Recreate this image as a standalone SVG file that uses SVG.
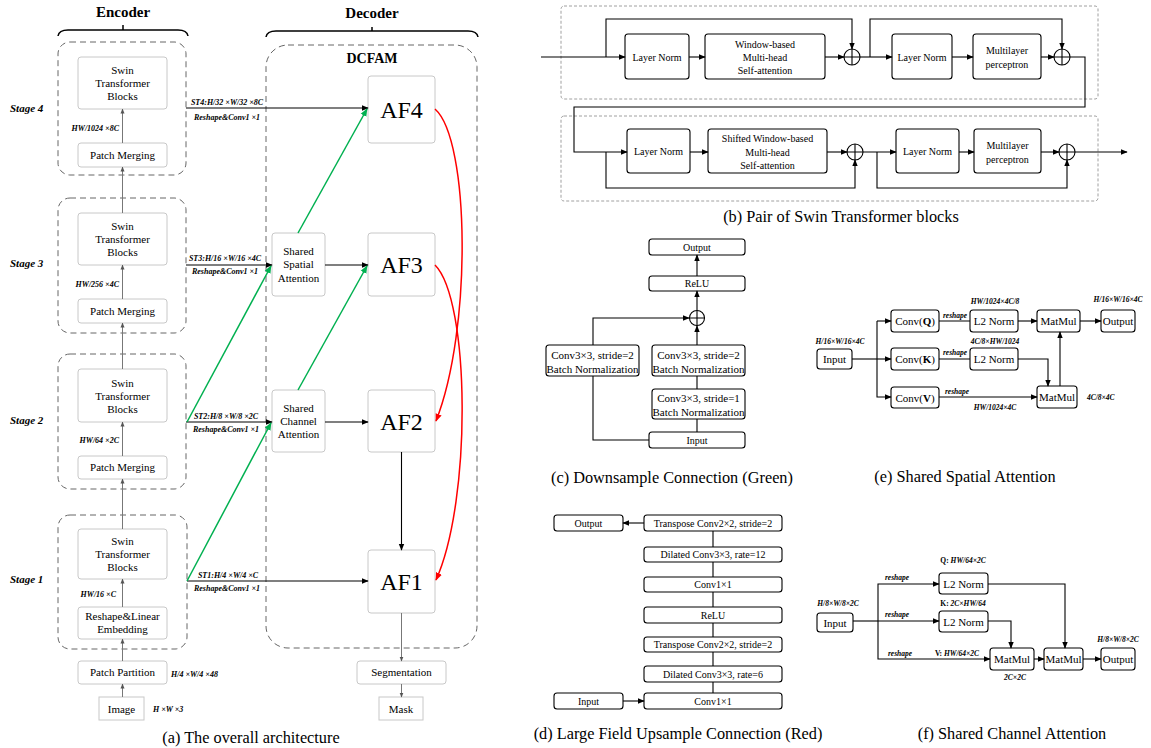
<svg xmlns="http://www.w3.org/2000/svg" width="1151" height="748" viewBox="0 0 1151 748">
<defs>
<marker id="ak" viewBox="0 0 10 10" refX="9" refY="5" markerWidth="7" markerHeight="7" markerUnits="userSpaceOnUse" orient="auto"><path d="M0,1 L10,5 L0,9 z" fill="#000"/></marker>
<marker id="ag" viewBox="0 0 10 10" refX="9" refY="5" markerWidth="5" markerHeight="5" markerUnits="userSpaceOnUse" orient="auto"><path d="M0,1 L10,5 L0,9 z" fill="#555"/></marker>
<marker id="agr" viewBox="0 0 10 10" refX="9" refY="5" markerWidth="8" markerHeight="8" markerUnits="userSpaceOnUse" orient="auto"><path d="M0,1 L10,5 L0,9 z" fill="#00b050"/></marker>
<marker id="ar" viewBox="0 0 10 10" refX="9" refY="5" markerWidth="8" markerHeight="8" markerUnits="userSpaceOnUse" orient="auto"><path d="M0,1 L10,5 L0,9 z" fill="#ff0000"/></marker>
</defs>
<style>
text{font-family:"Liberation Serif","Times New Roman",serif;fill:#000;}
.t{font-size:11px;text-anchor:middle;dominant-baseline:central;}
.tb{font-size:10px;text-anchor:middle;dominant-baseline:central;}
.lab{font-size:8px;font-style:italic;font-weight:bold;dominant-baseline:central;}
.mid{text-anchor:middle;}
.stage{font-size:11px;font-style:italic;font-weight:bold;dominant-baseline:central;}
.title{font-size:15px;font-weight:bold;text-anchor:middle;dominant-baseline:central;}
.cap{font-size:16.3px;text-anchor:middle;dominant-baseline:central;}
.af{font-size:24px;text-anchor:middle;dominant-baseline:central;}
.gbox{fill:#fff;stroke:#c8c8c8;stroke-width:1;}
.dash{fill:none;stroke:#666;stroke-width:1;stroke-dasharray:6,4;}
.sdash{fill:none;stroke:#888;stroke-width:0.8;stroke-dasharray:3,2;}
.bbox{fill:#fff;stroke:#000;stroke-width:1.1;}
.ln{fill:none;stroke:#000;stroke-width:1.1;}
.gl{fill:none;stroke:#777;stroke-width:1;}
.green{fill:none;stroke:#00b050;stroke-width:1.5;}
.red{fill:none;stroke:#ff0000;stroke-width:1.5;}
.brace{fill:none;stroke:#000;stroke-width:1.5;}
</style>

<!-- ===== (a) overall architecture ===== -->
<g id="encoder-title">
<text class="title" x="123" y="12">Encoder</text>
<path class="brace" d="M58,36 Q59,30 68,30 L178,30 Q187,30 188,36 M123,30 L123,25"/>
</g>
<g id="decoder-title">
<text class="title" x="372" y="13">Decoder</text>
<path class="brace" d="M266,37 Q267,31 276,31 L468,31 Q477,31 478,37 M372,31 L372,27"/>
</g>

<g id="stage4">
<rect class="dash" x="58" y="42" width="128" height="133" rx="12"/>
<text class="stage" x="10" y="108">Stage 4</text>
</g>
<g id="stage3">
<rect class="dash" x="58" y="198" width="128" height="135" rx="12"/>
<text class="stage" x="10" y="263">Stage 3</text>
</g>
<g id="stage2">
<rect class="dash" x="58" y="354" width="128" height="135" rx="12"/>
<text class="stage" x="10" y="420">Stage 2</text>
</g>
<g id="stage1">
<rect class="dash" x="58" y="515" width="129" height="134" rx="12"/>
<text class="stage" x="10" y="579">Stage 1</text>
</g>

<g id="swin4"><rect class="gbox" x="78" y="57" width="89" height="52" rx="3"/>
<text class="t" x="122.5" y="70">Swin</text><text class="t" x="122.5" y="83">Transformer</text><text class="t" x="122.5" y="96">Blocks</text></g>
<g id="pm4"><rect class="gbox" x="78" y="143" width="89" height="24" rx="3"/><text class="t" x="122.5" y="155">Patch Merging</text></g>
<g id="swin3"><rect class="gbox" x="78" y="213" width="89" height="52" rx="3"/>
<text class="t" x="122.5" y="226">Swin</text><text class="t" x="122.5" y="239">Transformer</text><text class="t" x="122.5" y="252">Blocks</text></g>
<g id="pm3"><rect class="gbox" x="78" y="299" width="89" height="24" rx="3"/><text class="t" x="122.5" y="311">Patch Merging</text></g>
<g id="swin2"><rect class="gbox" x="78" y="369" width="89" height="53" rx="3"/>
<text class="t" x="122.5" y="383">Swin</text><text class="t" x="122.5" y="396">Transformer</text><text class="t" x="122.5" y="409">Blocks</text></g>
<g id="pm2"><rect class="gbox" x="78" y="456" width="89" height="23" rx="3"/><text class="t" x="122.5" y="467">Patch Merging</text></g>
<g id="swin1"><rect class="gbox" x="78" y="529" width="89" height="50" rx="3"/>
<text class="t" x="122.5" y="541">Swin</text><text class="t" x="122.5" y="554">Transformer</text><text class="t" x="122.5" y="567">Blocks</text></g>
<g id="embed"><rect class="gbox" x="78" y="607" width="89" height="32" rx="3"/>
<text class="t" x="122.5" y="616">Reshape&amp;Linear</text><text class="t" x="122.5" y="629">Embedding</text></g>
<g id="partition"><rect class="gbox" x="78" y="661" width="89" height="23" rx="3"/><text class="t" x="122.5" y="672">Patch Partition</text>
<text class="lab" x="171" y="674">H/4 ×W/4 ×48</text></g>
<g id="image"><rect class="gbox" x="99" y="697" width="45" height="23"/><text class="t" x="121.5" y="709">Image</text>
<text class="lab" x="153" y="709">H ×W ×3</text></g>

<g id="dcfam">
<rect class="dash" x="266" y="45" width="211" height="603" rx="22"/>
<text class="title" x="372" y="58" style="font-size:14px">DCFAM</text>
</g>
<g id="af4"><rect class="gbox" x="368" y="76" width="67" height="67" rx="3"/><text class="af" x="401.5" y="110">AF4</text></g>
<g id="af3"><rect class="gbox" x="368" y="233" width="67" height="63" rx="3"/><text class="af" x="401.5" y="265">AF3</text></g>
<g id="af2"><rect class="gbox" x="368" y="390" width="67" height="62" rx="3"/><text class="af" x="401.5" y="422">AF2</text></g>
<g id="af1"><rect class="gbox" x="368" y="550" width="67" height="63" rx="3"/><text class="af" x="401.5" y="582">AF1</text></g>
<g id="ssa"><rect class="gbox" x="272" y="233" width="53" height="63" rx="3"/>
<text class="t" x="298.5" y="251">Shared</text><text class="t" x="298.5" y="264">Spatial</text><text class="t" x="298.5" y="278">Attention</text></g>
<g id="sca"><rect class="gbox" x="272" y="390" width="53" height="62" rx="3"/>
<text class="t" x="298.5" y="408">Shared</text><text class="t" x="298.5" y="421">Channel</text><text class="t" x="298.5" y="434">Attention</text></g>
<g id="seg"><rect class="gbox" x="357" y="661" width="89" height="23" rx="3"/><text class="t" x="401.5" y="672">Segmentation</text></g>
<g id="mask"><rect class="gbox" x="379" y="697" width="44" height="23"/><text class="t" x="401" y="709">Mask</text></g>

<g id="a-labels">
<text class="lab" x="119" y="128" style="text-anchor:end">HW/1024 ×8C</text>
<text class="lab" x="119" y="284" style="text-anchor:end">HW/256 ×4C</text>
<text class="lab" x="119" y="440" style="text-anchor:end">HW/64 ×2C</text>
<text class="lab" x="116" y="594" style="text-anchor:end">HW/16 ×C</text>
<text class="lab mid" x="227" y="102">ST4:H/32 ×W/32 ×8C</text>
<text class="lab mid" x="227" y="117">Reshape&amp;Conv1 ×1</text>
<text class="lab mid" x="225" y="258">ST3:H/16 ×W/16 ×4C</text>
<text class="lab mid" x="225" y="271">Reshape&amp;Conv1 ×1</text>
<text class="lab mid" x="226" y="416">ST2:H/8 ×W/8 ×2C</text>
<text class="lab mid" x="226" y="429">Reshape&amp;Conv1 ×1</text>
<text class="lab mid" x="228" y="575">ST1:H/4 ×W/4 ×C</text>
<text class="lab mid" x="227" y="588">Reshape&amp;Conv1 ×1</text>
<text class="cap" x="251" y="737">(a) The overall architecture</text>
</g>

<g id="a-connectors">
<path class="gl" marker-end="url(#ag)" d="M122.5,697 L122.5,684"/>
<path class="gl" marker-end="url(#ag)" d="M122.5,661 L122.5,639"/>
<path class="gl" marker-end="url(#ag)" d="M122.5,607 L122.5,579"/>
<path class="gl" marker-end="url(#ag)" d="M122.5,529 L122.5,479"/>
<path class="gl" marker-end="url(#ag)" d="M122.5,456 L122.5,422"/>
<path class="gl" marker-end="url(#ag)" d="M122.5,369 L122.5,323"/>
<path class="gl" marker-end="url(#ag)" d="M122.5,299 L122.5,265"/>
<path class="gl" marker-end="url(#ag)" d="M122.5,213 L122.5,167"/>
<path class="gl" marker-end="url(#ag)" d="M122.5,143 L122.5,109"/>
<path class="gl" marker-end="url(#ag)" d="M401.5,613 L401.5,661"/>
<path class="gl" marker-end="url(#ag)" d="M401.5,684 L401.5,697"/>
<path class="ln" marker-end="url(#ak)" d="M186,108 L368,108"/>
<path class="ln" marker-end="url(#ak)" d="M186,265 L272,265"/>
<path class="ln" marker-end="url(#ak)" d="M186,422 L272,422"/>
<path class="ln" marker-end="url(#ak)" d="M187,581 L368,581"/>
<path class="ln" marker-end="url(#ak)" d="M325,265 L368,265"/>
<path class="ln" marker-end="url(#ak)" d="M325,422 L368,422"/>
<path class="ln" marker-end="url(#ak)" d="M401.5,452 L401.5,550"/>
<path class="green" marker-end="url(#agr)" d="M187,422 L271,266"/>
<path class="green" marker-end="url(#agr)" d="M187,581 L271,423"/>
<path class="green" marker-end="url(#agr)" d="M298,390 L367,266"/>
<path class="green" marker-end="url(#agr)" d="M298,233 L367,109"/>
<path class="red" marker-end="url(#ar)" d="M435,109 C470,140 472,330 436,421"/>
<path class="red" marker-end="url(#ar)" d="M435,265 C470,300 472,500 436,580"/>
</g>

<!-- ===== (b) Pair of Swin Transformer blocks ===== -->
<g id="b-frames">
<rect class="sdash" x="561" y="6" width="537" height="93" rx="3"/>
<rect class="sdash" x="561" y="116" width="537" height="85" rx="3"/>
</g>
<g id="b-ln1"><rect class="bbox" x="625" y="34" width="64" height="45" rx="3"/><text class="tb" x="657" y="57">Layer Norm</text></g>
<g id="b-wmsa"><rect class="bbox" x="705" y="34" width="120" height="45" rx="3"/>
<text class="tb" x="765" y="44">Window-based</text><text class="tb" x="765" y="57">Multi-head</text><text class="tb" x="765" y="70">Self-attention</text></g>
<g id="b-plus1"><circle class="ln" cx="852" cy="57" r="8"/><path class="ln" d="M844,57 L860,57 M852,49 L852,65"/></g>
<g id="b-ln2"><rect class="bbox" x="892" y="34" width="60" height="45" rx="3"/><text class="tb" x="922" y="57">Layer Norm</text></g>
<g id="b-mlp1"><rect class="bbox" x="973" y="34" width="68" height="45" rx="3"/>
<text class="tb" x="1007" y="50">Multilayer</text><text class="tb" x="1007" y="64">perceptron</text></g>
<g id="b-plus2"><circle class="ln" cx="1062" cy="57" r="8"/><path class="ln" d="M1054,57 L1070,57 M1062,49 L1062,65"/></g>
<g id="b-ln3"><rect class="bbox" x="627" y="129" width="63" height="44" rx="3"/><text class="tb" x="658.5" y="151">Layer Norm</text></g>
<g id="b-swmsa"><rect class="bbox" x="708" y="129" width="119" height="44" rx="3"/>
<text class="tb" x="767.5" y="138">Shifted Window-based</text><text class="tb" x="767.5" y="152">Multi-head</text><text class="tb" x="767.5" y="165">Self-attention</text></g>
<g id="b-plus3"><circle class="ln" cx="855" cy="152" r="8"/><path class="ln" d="M847,152 L863,152 M855,144 L855,160"/></g>
<g id="b-ln4"><rect class="bbox" x="896" y="129" width="63" height="44" rx="3"/><text class="tb" x="927.5" y="151">Layer Norm</text></g>
<g id="b-mlp2"><rect class="bbox" x="974" y="129" width="67" height="44" rx="3"/>
<text class="tb" x="1007.5" y="145">Multilayer</text><text class="tb" x="1007.5" y="159">perceptron</text></g>
<g id="b-plus4"><circle class="ln" cx="1067" cy="152" r="8"/><path class="ln" d="M1059,152 L1075,152 M1067,144 L1067,160"/></g>
<g id="b-connectors">
<path class="ln" marker-end="url(#ak)" d="M541,57 L625,57"/>
<path class="ln" marker-end="url(#ak)" d="M606,57 L606,19 L852,19 L852,49"/>
<path class="ln" marker-end="url(#ak)" d="M689,57 L705,57"/>
<path class="ln" marker-end="url(#ak)" d="M825,57 L844,57"/>
<path class="ln" marker-end="url(#ak)" d="M860,57 L892,57"/>
<path class="ln" marker-end="url(#ak)" d="M870,57 L870,19 L1062,19 L1062,49"/>
<path class="ln" marker-end="url(#ak)" d="M952,57 L973,57"/>
<path class="ln" marker-end="url(#ak)" d="M1041,57 L1054,57"/>
<path class="ln" marker-end="url(#ak)" d="M1070,57 L1085,57 L1085,107 L574,107 L574,152 L627,152"/>
<path class="ln" marker-end="url(#ak)" d="M606,152 L606,188 L855,188 L855,160"/>
<path class="ln" marker-end="url(#ak)" d="M690,152 L708,152"/>
<path class="ln" marker-end="url(#ak)" d="M827,152 L847,152"/>
<path class="ln" marker-end="url(#ak)" d="M863,152 L896,152"/>
<path class="ln" marker-end="url(#ak)" d="M877,152 L877,188 L1067,188 L1067,160"/>
<path class="ln" marker-end="url(#ak)" d="M959,152 L974,152"/>
<path class="ln" marker-end="url(#ak)" d="M1041,152 L1059,152"/>
<path class="ln" marker-end="url(#ak)" d="M1075,152 L1127,152"/>
</g>
<text class="cap" x="841" y="216">(b) Pair of Swin Transformer blocks</text>

<!-- ===== (c) Downsample Connection ===== -->
<g id="c-output"><rect class="bbox" x="649" y="239" width="96" height="16" rx="3"/><text class="tb" x="697" y="247">Output</text></g>
<g id="c-relu"><rect class="bbox" x="649" y="276" width="96" height="15" rx="3"/><text class="tb" x="697" y="283.5">ReLU</text></g>
<g id="c-plus"><circle class="ln" cx="697" cy="318" r="7.5"/><path class="ln" d="M689.5,318 L704.5,318 M697,310.5 L697,325.5"/></g>
<g id="c-conv2r"><rect class="bbox" x="652" y="345" width="93" height="31" rx="3"/>
<text class="t" x="698.5" y="355">Conv3×3, stride=2</text><text class="t" x="698.5" y="369">Batch Normalization</text></g>
<g id="c-conv1"><rect class="bbox" x="652" y="389" width="93" height="30" rx="3"/>
<text class="t" x="698.5" y="398">Conv3×3, stride=1</text><text class="t" x="698.5" y="412">Batch Normalization</text></g>
<g id="c-conv2l"><rect class="bbox" x="546" y="345" width="93" height="31" rx="3"/>
<text class="t" x="592.5" y="355">Conv3×3, stride=2</text><text class="t" x="592.5" y="369">Batch Normalization</text></g>
<g id="c-input"><rect class="bbox" x="649" y="432" width="96" height="16" rx="3"/><text class="tb" x="697" y="440">Input</text></g>
<g id="c-connectors">
<path class="ln" d="M697,432 L697,419 M697,389 L697,376"/>
<path class="ln" marker-end="url(#ak)" d="M697,345 L697,326"/>
<path class="ln" marker-end="url(#ak)" d="M697,310 L697,291"/>
<path class="ln" marker-end="url(#ak)" d="M697,276 L697,255"/>
<path class="ln" d="M649,440 L593,440 L593,376"/>
<path class="ln" marker-end="url(#ak)" d="M593,345 L593,318 L689,318"/>
</g>
<text class="cap" x="672" y="477">(c) Downsample Connection (Green)</text>

<!-- ===== (d) Large Field Upsample Connection ===== -->
<g id="d-output"><rect class="bbox" x="554" y="515" width="69" height="16" rx="3"/><text class="tb" x="588.5" y="523">Output</text></g>
<g id="d-tc2"><rect class="bbox" x="644" y="515" width="138" height="16" rx="3"/><text class="tb" x="713" y="523">Transpose Conv2×2, stride=2</text></g>
<g id="d-dc12"><rect class="bbox" x="644" y="547" width="138" height="15" rx="3"/><text class="tb" x="713" y="554.5">Dilated Conv3×3, rate=12</text></g>
<g id="d-c2"><rect class="bbox" x="644" y="577" width="138" height="15" rx="3"/><text class="tb" x="713" y="584.5">Conv1×1</text></g>
<g id="d-relu"><rect class="bbox" x="644" y="607" width="138" height="16" rx="3"/><text class="tb" x="713" y="615">ReLU</text></g>
<g id="d-tc1"><rect class="bbox" x="644" y="637" width="138" height="15" rx="3"/><text class="tb" x="713" y="644.5">Transpose Conv2×2, stride=2</text></g>
<g id="d-dc6"><rect class="bbox" x="644" y="666" width="138" height="16" rx="3"/><text class="tb" x="713" y="674">Dilated Conv3×3, rate=6</text></g>
<g id="d-c1"><rect class="bbox" x="644" y="693" width="138" height="16" rx="3"/><text class="tb" x="713" y="701">Conv1×1</text></g>
<g id="d-input"><rect class="bbox" x="554" y="693" width="69" height="16" rx="3"/><text class="tb" x="588.5" y="701">Input</text></g>
<g id="d-connectors">
<path class="ln" marker-end="url(#ak)" d="M644,523 L623,523"/>
<path class="ln" marker-end="url(#ak)" d="M623,701 L644,701"/>
<path class="ln" d="M713,531 L713,547 M713,562 L713,577 M713,592 L713,607 M713,623 L713,637 M713,652 L713,666 M713,682 L713,693"/>
</g>
<text class="cap" x="678" y="733">(d) Large Field Upsample Connection (Red)</text>

<!-- ===== (e) Shared Spatial Attention ===== -->
<g id="e-input"><rect class="bbox" x="817" y="349" width="35" height="20" rx="3"/><text class="t" x="834.5" y="359">Input</text></g>
<g id="e-convq"><rect class="bbox" x="891" y="310" width="48" height="22" rx="3"/><text class="t" x="915" y="321">Conv(<tspan font-weight="bold">Q</tspan>)</text></g>
<g id="e-convk"><rect class="bbox" x="891" y="348" width="48" height="22" rx="3"/><text class="t" x="915" y="359">Conv(<tspan font-weight="bold">K</tspan>)</text></g>
<g id="e-convv"><rect class="bbox" x="891" y="387" width="48" height="21" rx="3"/><text class="t" x="915" y="397.5">Conv(<tspan font-weight="bold">V</tspan>)</text></g>
<g id="e-l2q"><rect class="bbox" x="970" y="310" width="48" height="22" rx="3"/><text class="t" x="994" y="321">L2 Norm</text></g>
<g id="e-l2k"><rect class="bbox" x="970" y="348" width="48" height="22" rx="3"/><text class="t" x="994" y="359">L2 Norm</text></g>
<g id="e-mm1"><rect class="bbox" x="1037" y="310" width="43" height="22" rx="3"/><text class="t" x="1058.5" y="321">MatMul</text></g>
<g id="e-mm2"><rect class="bbox" x="1037" y="386" width="40" height="22" rx="3"/><text class="t" x="1057" y="397">MatMul</text></g>
<g id="e-output"><rect class="bbox" x="1101" y="310" width="34" height="22" rx="3"/><text class="t" x="1118" y="321">Output</text></g>
<g id="e-labels">
<text class="lab mid" x="840" y="341" style="font-size:7.5px">H/16×W/16×4C</text>
<text class="lab mid" x="995" y="301" style="font-size:7.5px">HW/1024×4C/8</text>
<text class="lab mid" x="995" y="341" style="font-size:7.5px">4C/8×HW/1024</text>
<text class="lab mid" x="1118" y="299" style="font-size:7.5px">H/16×W/16×4C</text>
<text class="lab mid" x="955" y="315" style="font-size:7.5px">reshape</text>
<text class="lab mid" x="955" y="352" style="font-size:7.5px">reshape</text>
<text class="lab mid" x="957" y="391" style="font-size:7.5px">reshape</text>
<text class="lab mid" x="995" y="407" style="font-size:7.5px">HW/1024×4C</text>
<text class="lab" x="1087" y="397" style="font-size:7.5px">4C/8×4C</text>
</g>
<g id="e-connectors">
<path class="ln" d="M852,359 L877,359"/>
<path class="ln" marker-end="url(#ak)" d="M877,321 L891,321"/>
<path class="ln" marker-end="url(#ak)" d="M877,359 L891,359"/>
<path class="ln" marker-end="url(#ak)" d="M877,321 L877,397 L891,397"/>
<path class="ln" d="M939,321 L970,321 M939,359 L970,359"/>
<path class="ln" marker-end="url(#ak)" d="M1018,321 L1037,321"/>
<path class="ln" marker-end="url(#ak)" d="M1080,321 L1101,321"/>
<path class="ln" marker-end="url(#ak)" d="M1018,359 L1048,359 L1048,386"/>
<path class="ln" marker-end="url(#ak)" d="M1060,386 L1060,332"/>
<path class="ln" marker-end="url(#ak)" d="M939,397 L1037,397"/>
</g>
<text class="cap" x="965" y="476">(e) Shared Spatial Attention</text>

<!-- ===== (f) Shared Channel Attention ===== -->
<g id="f-input"><rect class="bbox" x="817" y="613" width="36" height="19" rx="3"/><text class="t" x="835" y="622.5">Input</text></g>
<g id="f-l2q"><rect class="bbox" x="939" y="573" width="49" height="21" rx="3"/><text class="t" x="963.5" y="583.5">L2 Norm</text></g>
<g id="f-l2k"><rect class="bbox" x="939" y="611" width="49" height="21" rx="3"/><text class="t" x="963.5" y="621.5">L2 Norm</text></g>
<g id="f-mm1"><rect class="bbox" x="990" y="648" width="44" height="22" rx="3"/><text class="t" x="1012" y="659">MatMul</text></g>
<g id="f-mm2"><rect class="bbox" x="1044" y="648" width="39" height="22" rx="3"/><text class="t" x="1063.5" y="659">MatMul</text></g>
<g id="f-output"><rect class="bbox" x="1101" y="648" width="34" height="22" rx="3"/><text class="t" x="1118" y="659">Output</text></g>
<g id="f-labels">
<text class="lab mid" x="838" y="603" style="font-size:7.5px">H/8×W/8×2C</text>
<text class="lab mid" x="963" y="560" style="font-size:7.5px"><tspan font-style="normal">Q:</tspan> HW/64×2C</text>
<text class="lab mid" x="963" y="603" style="font-size:7.5px"><tspan font-style="normal">K:</tspan> 2C×HW/64</text>
<text class="lab mid" x="957" y="653" style="font-size:7.5px"><tspan font-style="normal">V:</tspan> HW/64×2C</text>
<text class="lab mid" x="897" y="577" style="font-size:7.5px">reshape</text>
<text class="lab mid" x="897" y="614" style="font-size:7.5px">reshape</text>
<text class="lab mid" x="900" y="653" style="font-size:7.5px">reshape</text>
<text class="lab mid" x="1015" y="677" style="font-size:7.5px">2C×2C</text>
<text class="lab mid" x="1118" y="639" style="font-size:7.5px">H/8×W/8×2C</text>
</g>
<g id="f-connectors">
<path class="ln" d="M853,621 L878,621"/>
<path class="ln" marker-end="url(#ak)" d="M878,621 L878,584 L939,584"/>
<path class="ln" marker-end="url(#ak)" d="M878,621 L939,621"/>
<path class="ln" marker-end="url(#ak)" d="M878,621 L878,659 L990,659"/>
<path class="ln" marker-end="url(#ak)" d="M988,621 L1011,621 L1011,648"/>
<path class="ln" marker-end="url(#ak)" d="M988,584 L1065,584 L1065,648"/>
<path class="ln" marker-end="url(#ak)" d="M1034,659 L1044,659"/>
<path class="ln" marker-end="url(#ak)" d="M1083,659 L1101,659"/>
</g>
<text class="cap" x="1012" y="733">(f) Shared Channel Attention</text>
</svg>
